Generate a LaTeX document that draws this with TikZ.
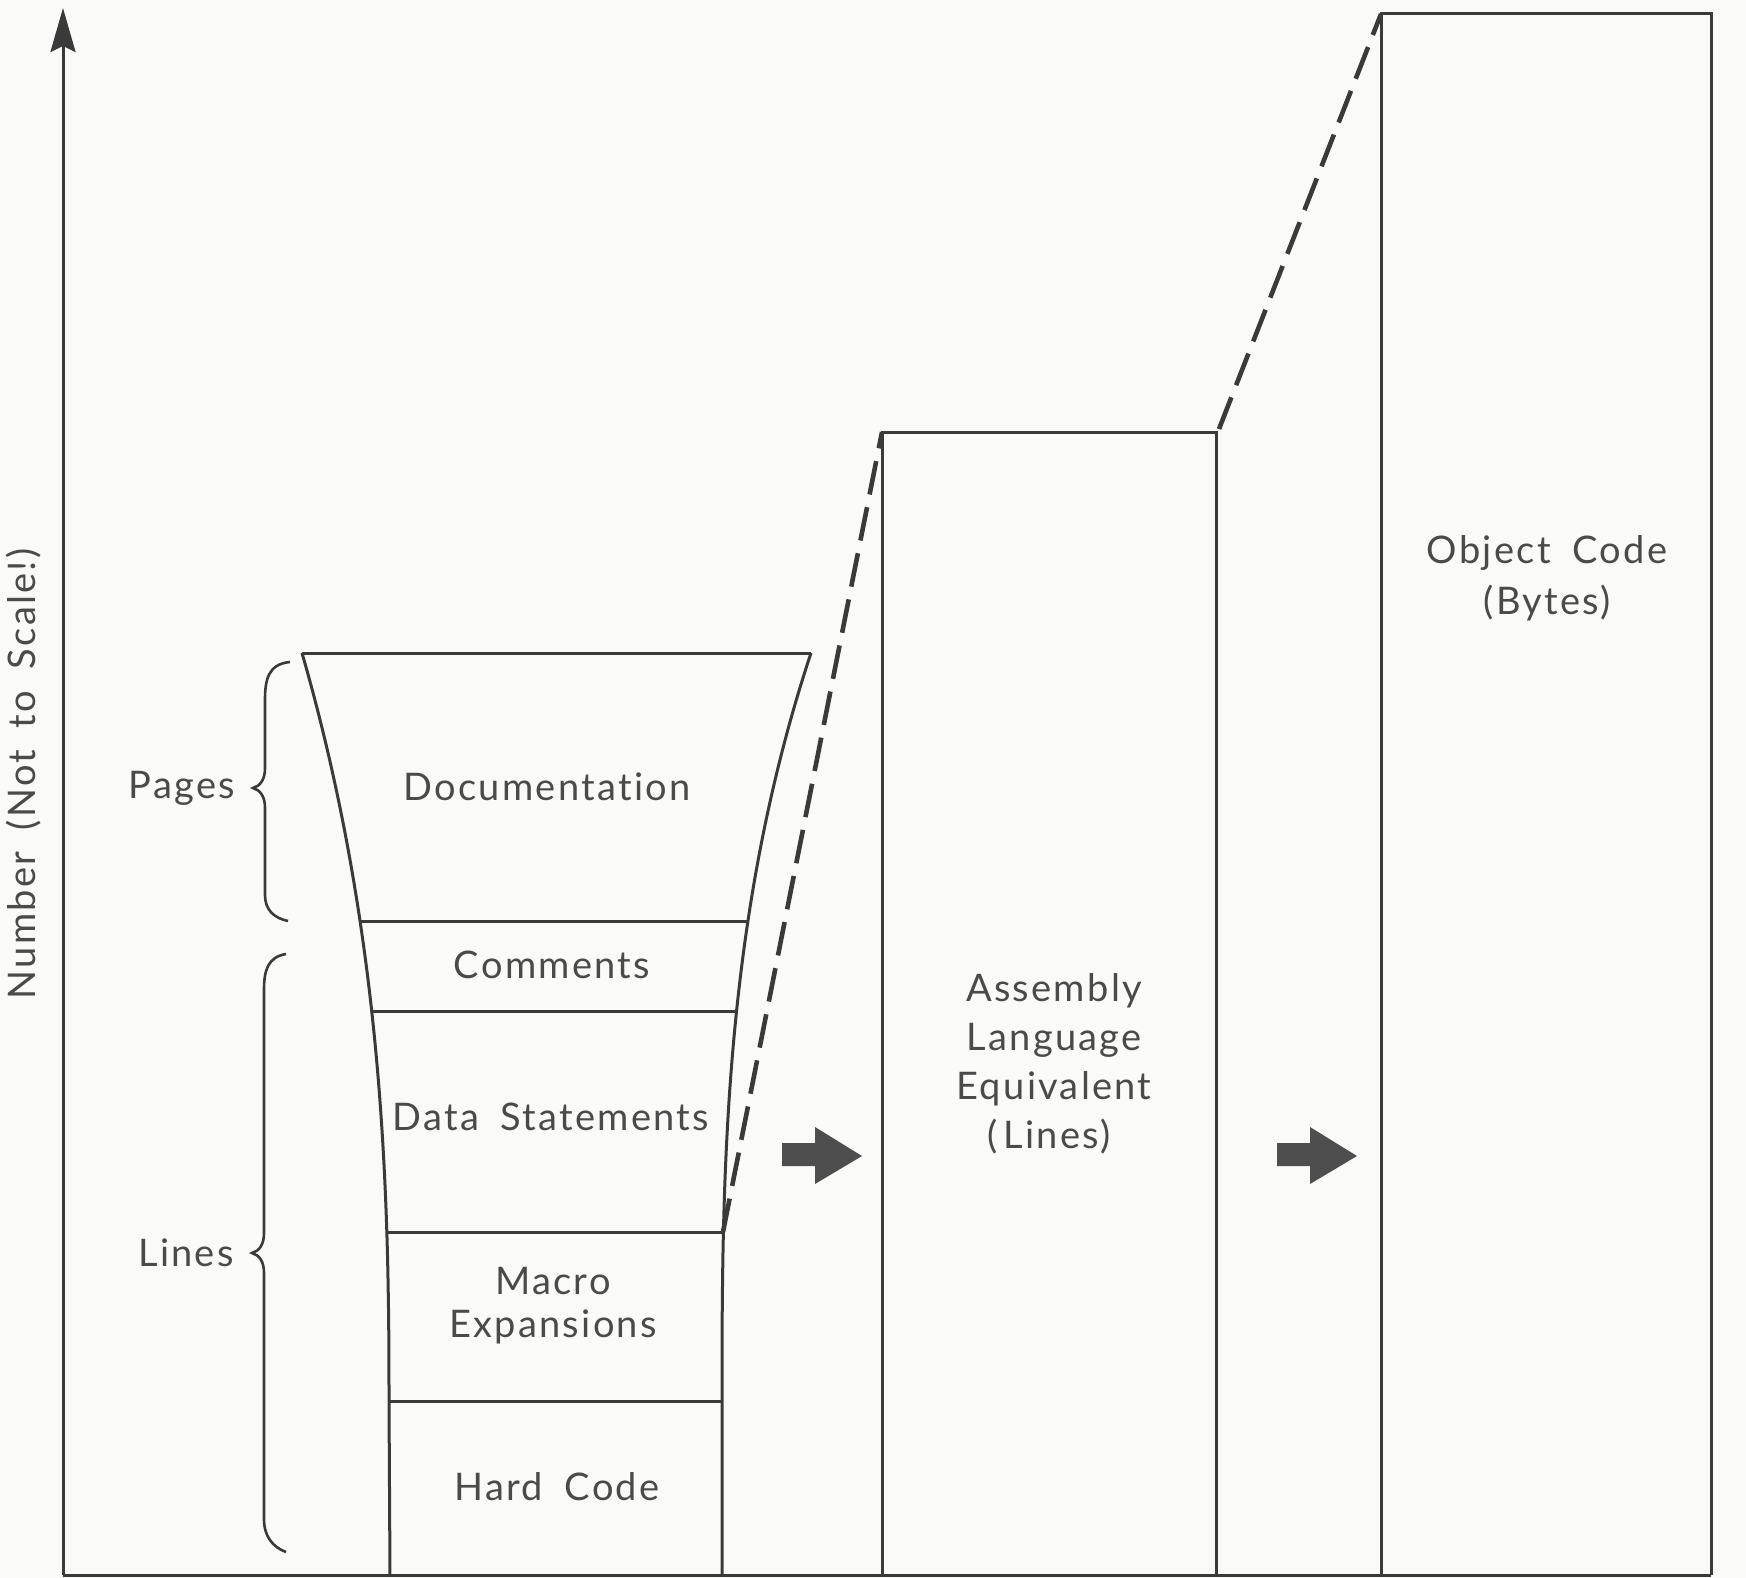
\documentclass[tikz,border=0pt]{standalone}
\usepackage{fontspec}
\setmainfont{Lato}[LetterSpace=6, WordSpace=1.8, Ligatures=NoCommon]
\usepackage{tikz}
\usetikzlibrary{arrows.meta}
\definecolor{ink}{HTML}{3A3A3A}
\definecolor{paper}{HTML}{FAFAF8}
\definecolor{txt}{HTML}{4A4A4A}

\begin{document}
\begin{tikzpicture}[x=0.5pt,y=-0.5pt]
	\tikzstyle{every node}+=[inner sep=0pt, text=txt, font=\fontsize{19}{24.5}\selectfont]
	\tikzstyle{edge}=[draw=ink, line width=1.5pt]
	\tikzstyle{dashedge}=[draw=ink, line width=2.3pt, dash pattern=on 17pt off 6.5pt]
	\tikzstyle{blockarrow}=[fill=ink!90]
	\fill [paper] (0,0) rectangle (1746,1578);
	\useasboundingbox (0,0) rectangle (1746,1578);
	% axes
	\draw [edge, -{Stealth[length=22pt, width=12.5pt, inset=3pt]}] (63,1575) -- (63,8);
	\draw [edge] (63,1575) -- (1711,1575);
	\node (ylabel) [rotate=90] at (24,774) {Number (Not to Scale!)};
	% funnel of source lines
	\coordinate (fTL) at (302,653);
	\coordinate (fTR) at (811,653);
	\coordinate (d3R) at (723,1232);
	\draw [edge] plot [domain=653:1400, samples=60, smooth, variable=\y] ({389-87*((1401-\y)/748)^2.48}, \y) -- (390,1575);
	\draw [edge] plot [domain=653:1400, samples=60, smooth, variable=\y] ({722+89*((1401-\y)/748)^2.78}, \y) -- (722,1575);
	\draw [edge] (fTL) -- (fTR);
	\draw [edge] (360,921) -- (748,921);
	\draw [edge] (372,1011) -- (737,1011);
	\draw [edge] (387,1232) -- (d3R);
	\draw [edge] (389,1401) -- (722,1401);
	\node (doc) at (547,787) {Documentation};
	\node (com) at (552,965) {Comments};
	\node (data) at (551,1117) {Data Statements};
	\node (macro) [align=center, font=\fontsize{19}{21.5}\selectfont] at (553,1306) {Macro\\Expansions};
	\node (hard) at (557,1487) {Hard Code};
	% braces
	\draw [edge, line width=1.3pt] (290,662) .. controls (268,664) and (265,680) .. (265,700) -- (265,768) .. controls (265,780) and (260,786) .. (253,788) .. controls (260,790) and (265,796) .. (265,808) -- (265,895) .. controls (265,910) and (274,918) .. (288,921);
	\draw [edge, line width=1.3pt] (286,954) .. controls (268,957) and (264,970) .. (264,990) -- (264,1233) .. controls (264,1245) and (259,1251) .. (252,1253) .. controls (259,1255) and (264,1261) .. (264,1273) -- (264,1520) .. controls (264,1535) and (272,1547) .. (286,1552);
	\node (pages) at (182,788) {Pages};
	\node (lines) at (186,1253) {Lines};
	% assembly and object boxes
	\coordinate (asmTL) at (882,432);
	\coordinate (asmTR) at (1216,432);
	\coordinate (objTL) at (1381,14);
	\draw [edge] (882,1575) -- (asmTL) -- (asmTR) -- (1216,1575);
	\draw [edge] (1381,1575) -- (objTL) -- (1711,14) -- (1711,1575);
	\node (asm) [align=center] at (1054,1064) {Assembly\\Language\\Equivalent\\(\,Lines)\hspace*{5pt}};
	\node (obj) [align=center, font=\fontsize{19}{25.5}\selectfont] at (1547,578) {Object Code\\(Bytes)};
	\draw [dashedge] (d3R) -- (asmTL);
	\draw [dashedge] (1219,429) -- (objTL);
	% block arrows
	\foreach \x in {782,1277}
		\fill [blockarrow] (\x,1143) -- (\x+33,1143) -- (\x+33,1127) -- (\x+80,1156) -- (\x+33,1184) -- (\x+33,1166) -- (\x,1166) -- cycle;
\end{tikzpicture}
\end{document}
